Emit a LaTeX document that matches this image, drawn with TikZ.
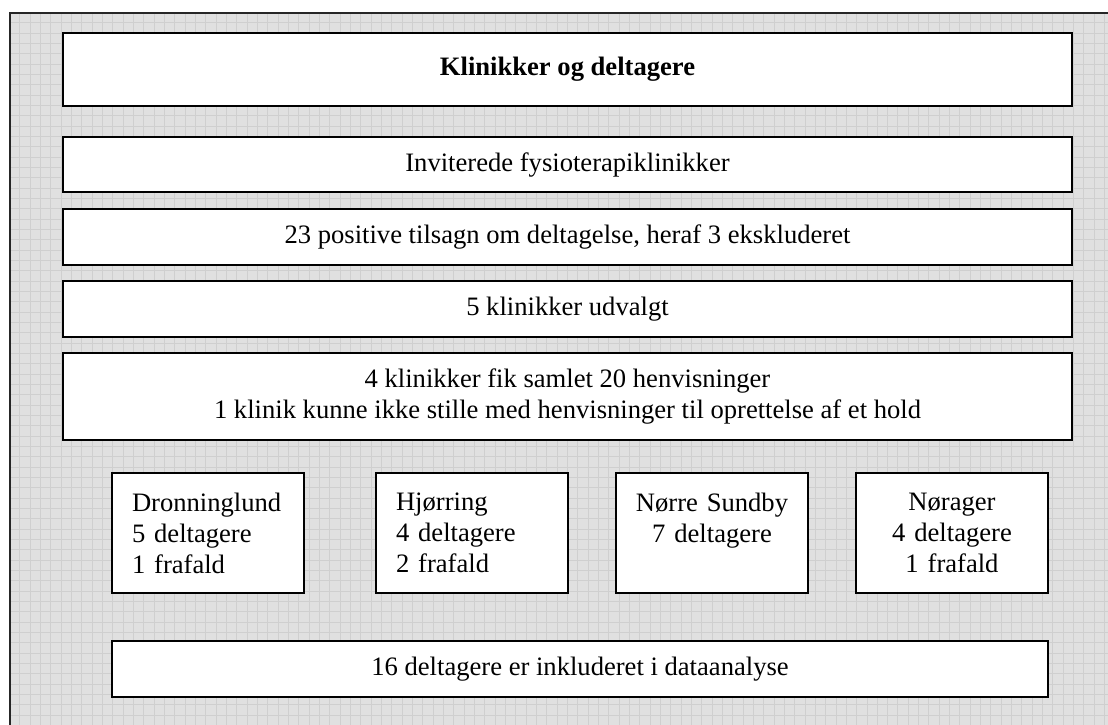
\documentclass[tikz,border=0pt]{standalone}
\usepackage{fontspec}
\setmainfont{Liberation Serif}
\usetikzlibrary{positioning}

\begin{document}
\begin{tikzpicture}[
  x=1pt, y=-1pt,
  gridline/.style={draw=black!19, line width=0.8pt},
  panel/.style={rectangle, draw, line width=2.3pt, fill=white, inner sep=0pt, align=center,
    font=\fontsize{26.6}{31}\selectfont},
  wide/.style={panel, minimum width=1009pt, minimum height=56pt},
  site/.style={panel, minimum width=192pt, minimum height=120pt, text width=170pt, inner xsep=11pt},
  siteleft/.style={site, align=left, text width=152pt, inner xsep=20pt}
]
\useasboundingbox (0,0) rectangle (1108,724);
\clip (0,0) rectangle (1108,724);

% Background
\fill[black!12] (9.5,12.5) rectangle (1120,740);
\foreach \i in {1,...,108} {
  \draw[gridline] ({9.5+10.33*\i},12.5) -- ({9.5+10.33*\i},740);
}
\foreach \j in {1,...,71} {
  \draw[gridline] (9.5,{12.5+10.33*\j}) -- (1120,{12.5+10.33*\j});
}
\draw[line width=2pt, black!85] (9.5,740) -- (9.5,12.5) -- (1120,12.5);

% Flow boxes
\node[wide, minimum height=73pt] (title) at (567.5,69.5) {\bfseries Klinikker og deltagere};
\node[wide, minimum height=55pt] (invited) at (567.5,164.5) {Inviterede fysioterapiklinikker};
\node[wide] (accepted) at (567.5,237) {23 positive tilsagn om deltagelse, heraf 3 ekskluderet};
\node[wide] (selected) at (567.5,309) {5 klinikker udvalgt};
\node[wide, minimum height=87pt] (referrals) at (567.5,396.5) {4 klinikker fik samlet 20 henvisninger\\1 klinik kunne ikke stille med henvisninger til oprettelse af et hold};

% Clinics
\node[siteleft] (dronninglund) at (208,533) {Dronninglund\\5 deltagere\\1 frafald};
\node[siteleft] (hjorring) at (472,533) {Hjørring\\4 deltagere\\2 frafald};
\node[site] (sundby) at (712,533) {Nørre Sundby\\7 deltagere\\~};
\node[site] (norager) at (952,533) {Nørager\\4 deltagere\\1 frafald};

% Result
\node[wide, minimum width=936pt] (analysis) at (580,669) {16 deltagere er inkluderet i dataanalyse};

\end{tikzpicture}
\end{document}
